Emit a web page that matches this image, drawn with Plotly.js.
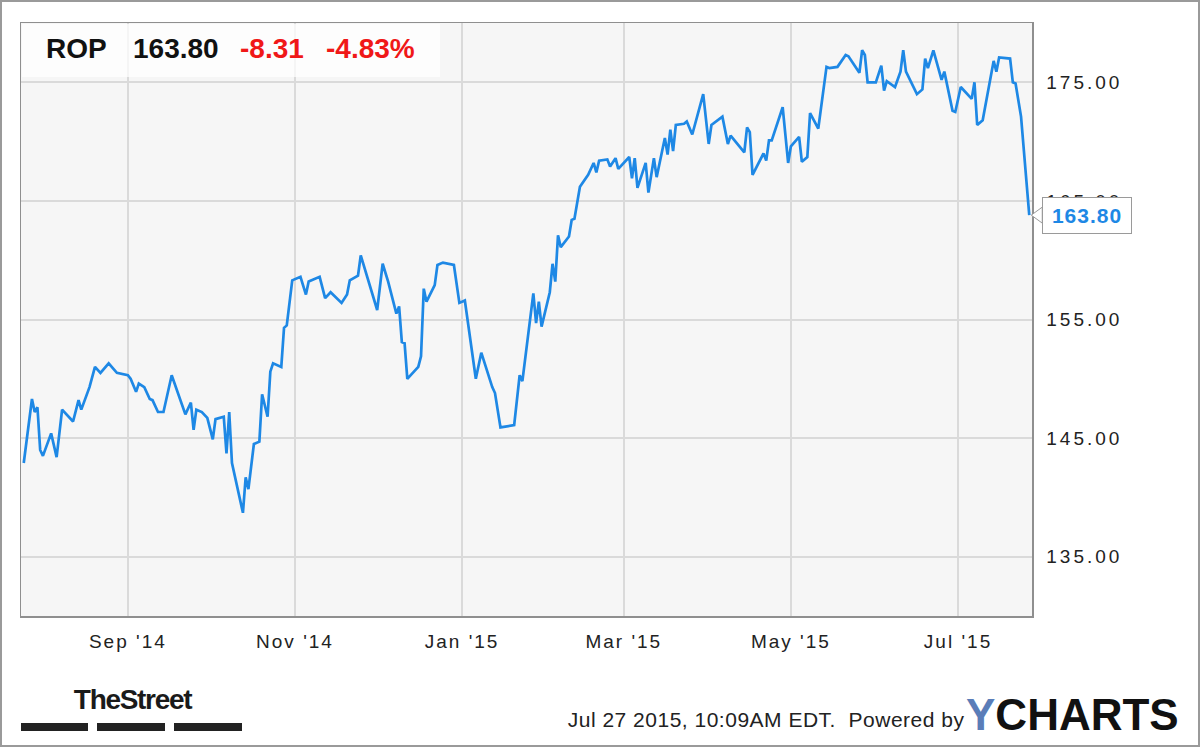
<!DOCTYPE html>
<html>
<head>
<meta charset="utf-8">
<script src="https://cdn.plot.ly/plotly-3.0.1.min.js"></script>
<style>
  html, body { margin: 0; padding: 0; background: #ffffff; }
  #chart { width: 1200px; height: 747px; }
  .xtick text { letter-spacing: 2px; }
  .ytick text { letter-spacing: 3px; }
  .annotation[data-index="4"] text { letter-spacing: 1px; }
  .annotation[data-index="5"] text { letter-spacing: -1.3px; }
  .annotation[data-index="6"] text { letter-spacing: 0.5px; }
</style>
</head>
<body>
<div id="chart"></div>
<script>
// ---- Data ----
const ticker = "ROP";
const lastPriceText = "163.80";
const changeText = "-8.31";
const changePctText = "-4.83%";
const timestampText = "Jul 27 2015, 10:09AM EDT.  Powered by";

const dates = [
  "2014-07-25","2014-07-28","2014-07-29","2014-07-30","2014-07-31","2014-08-01","2014-08-04","2014-08-06",
  "2014-08-08","2014-08-12","2014-08-14","2014-08-15","2014-08-18","2014-08-20","2014-08-22","2014-08-25",
  "2014-08-28","2014-09-01","2014-09-02","2014-09-04","2014-09-05","2014-09-07","2014-09-09","2014-09-10",
  "2014-09-12","2014-09-14","2014-09-17","2014-09-22","2014-09-24","2014-09-25","2014-09-26","2014-09-28",
  "2014-09-30","2014-10-02","2014-10-03","2014-10-06","2014-10-07","2014-10-08","2014-10-09","2014-10-13",
  "2014-10-14","2014-10-15","2014-10-17","2014-10-19","2014-10-20","2014-10-22","2014-10-23","2014-10-24",
  "2014-10-27","2014-10-28","2014-10-29","2014-10-31","2014-11-03","2014-11-05","2014-11-06","2014-11-10",
  "2014-11-12","2014-11-14","2014-11-18","2014-11-20","2014-11-21","2014-11-24","2014-11-25","2014-12-01",
  "2014-12-03","2014-12-05","2014-12-08","2014-12-09","2014-12-10","2014-12-11","2014-12-12","2014-12-16",
  "2014-12-17","2014-12-18","2014-12-19","2014-12-22","2014-12-23","2014-12-25","2014-12-29","2014-12-31",
  "2015-01-02","2015-01-06","2015-01-08","2015-01-12","2015-01-13","2015-01-15","2015-01-20","2015-01-22",
  "2015-01-23","2015-01-27","2015-01-28","2015-01-29","2015-01-30","2015-02-02","2015-02-03","2015-02-04",
  "2015-02-05","2015-02-06","2015-02-09","2015-02-10","2015-02-11","2015-02-13","2015-02-16","2015-02-18",
  "2015-02-19","2015-02-20","2015-02-23","2015-02-24","2015-02-26","2015-02-27","2015-03-03","2015-03-04",
  "2015-03-05","2015-03-06","2015-03-09","2015-03-10","2015-03-12","2015-03-13","2015-03-16","2015-03-17",
  "2015-03-18","2015-03-19","2015-03-20","2015-03-23","2015-03-24","2015-03-26","2015-03-30","2015-04-01",
  "2015-04-02","2015-04-06","2015-04-08","2015-04-09","2015-04-14","2015-04-15","2015-04-16","2015-04-17",
  "2015-04-21","2015-04-22","2015-04-23","2015-04-24","2015-04-28","2015-04-30","2015-05-01","2015-05-04",
  "2015-05-05","2015-05-07","2015-05-08","2015-05-11","2015-05-14","2015-05-15","2015-05-18","2015-05-21",
  "2015-05-22","2015-05-26","2015-05-27","2015-05-28","2015-05-29","2015-06-01","2015-06-03","2015-06-04",
  "2015-06-05","2015-06-08","2015-06-10","2015-06-11","2015-06-12","2015-06-16","2015-06-18","2015-06-19",
  "2015-06-20","2015-06-22","2015-06-25","2015-06-26","2015-06-29","2015-06-30","2015-07-02","2015-07-06",
  "2015-07-07","2015-07-08","2015-07-10","2015-07-14","2015-07-15","2015-07-16","2015-07-20","2015-07-21",
  "2015-07-22","2015-07-24","2015-07-27"
];
const prices = [
  142.9,148.3,147.2,147.6,144.0,143.5,145.4,143.4,
  147.4,146.4,148.2,147.4,149.3,151.0,150.5,151.3,
  150.5,150.3,150.0,148.9,149.6,149.3,148.3,148.2,
  147.2,147.2,150.3,147.0,148.0,145.7,147.4,147.2,
  146.7,144.9,146.6,146.8,143.7,147.2,142.9,138.7,
  141.7,140.7,144.5,144.7,148.7,146.8,150.6,151.3,
  151.0,154.3,154.5,158.3,158.6,157.1,158.2,158.6,
  156.8,157.3,156.4,157.1,158.3,158.7,160.4,155.8,
  159.7,158.2,155.5,156.1,153.1,153.0,150.0,151.0,
  151.9,157.6,156.5,157.9,159.6,159.8,159.6,156.4,
  156.6,150.0,152.2,149.3,148.8,145.9,146.1,150.3,
  149.8,157.2,154.7,156.5,154.4,157.3,159.7,158.2,
  162.1,161.1,162.0,163.4,163.5,166.2,167.2,168.2,
  167.4,168.4,168.5,167.9,168.6,167.7,168.7,166.9,
  168.6,166.1,168.2,165.7,168.6,167.0,170.3,168.9,
  171.0,169.2,171.4,171.5,171.7,170.6,174.0,169.8,
  171.4,172.1,169.8,170.5,169.1,171.2,170.8,167.2,
  169.0,168.4,170.1,170.1,172.9,168.2,169.6,170.4,
  168.3,168.7,172.4,171.1,176.3,176.2,176.3,177.3,
  177.2,175.8,177.7,177.3,175.0,175.0,176.4,174.3,
  175.1,174.6,175.9,177.7,175.9,174.0,174.4,177.0,
  176.2,177.7,175.2,175.9,172.6,172.5,174.6,173.6,
  175.0,171.4,171.8,176.8,175.9,177.1,177.0,175.0,
  174.9,172.11,163.8
];

const xTickVals = ["2014-09-01","2014-11-01","2015-01-01","2015-03-01","2015-05-01","2015-07-01"];
const xTickText = ["Sep '14","Nov '14","Jan '15","Mar '15","May '15","Jul '15"];
const yTickVals = [135,145,155,165,175];
const yTickText = ["135.00","145.00","155.00","165.00","175.00"];
const xRange = ["2014-07-24","2015-07-28"];
const yRange = [130,180];

// ---- Layout geometry helpers (pixel -> paper) ----
const W = 1200, H = 747;
const M = {l: 21, r: 168, t: 23, b: 131};
const PW = W - M.l - M.r, PH = H - M.t - M.b;
const px = x => (x - M.l) / PW;
const py = y => (H - M.b - y) / PH;

const lineColor = "#1e88e5";
const red = "#f01818";
const font = "Liberation Sans, Arial, sans-serif";

const lastDate = dates[dates.length - 1];
const lastVal = prices[prices.length - 1];
const lastXPaper = (Date.parse(lastDate) - Date.parse(xRange[0])) / (Date.parse(xRange[1]) - Date.parse(xRange[0]));
const lastYPaper = (lastVal - yRange[0]) / (yRange[1] - yRange[0]);

const trace = {
  type: "scatter", mode: "lines",
  x: dates, y: prices,
  line: {color: lineColor, width: 2.7},
  hoverinfo: "skip"
};

const layout = {
  width: W, height: H,
  margin: M,
  paper_bgcolor: "#ffffff",
  plot_bgcolor: "#f6f6f6",
  showlegend: false,
  xaxis: {
    type: "date", range: xRange,
    tickmode: "array", tickvals: xTickVals, ticktext: xTickText,
    showgrid: true, gridcolor: "#dadada", gridwidth: 2,
    showline: true, linecolor: "#8f8f8f", linewidth: 1.5, mirror: true,
    zeroline: false, ticks: "", ticklabelstandoff: 8,
    tickfont: {family: font, size: 19, color: "#222222"},
    fixedrange: true
  },
  yaxis: {
    side: "right", range: yRange,
    tickmode: "array", tickvals: yTickVals, ticktext: yTickText,
    showgrid: true, gridcolor: "#dadada", gridwidth: 2,
    showline: true, linecolor: "#8f8f8f", linewidth: 1.5, mirror: true,
    zeroline: false, ticks: "", ticklabelstandoff: 9,
    tickfont: {family: font, size: 19, color: "#222222"},
    fixedrange: true
  },
  shapes: [
    // header panel
    {type: "rect", xref: "paper", yref: "paper", x0: px(22), x1: px(440), y0: py(77), y1: py(24),
     fillcolor: "rgba(255,255,255,0.72)", line: {width: 0}, layer: "above"},
    // callout notch
    {type: "path", xref: "paper", yref: "paper", xsizemode: "pixel", ysizemode: "pixel",
     xanchor: lastXPaper, yanchor: lastYPaper,
     path: "M 2,0 L 13,8 L 13,-8 Z", fillcolor: "#ffffff", line: {color: "#9a9a9a", width: 1}},
    // TheStreet bars
    {type: "rect", xref: "paper", yref: "paper", x0: px(21), x1: px(88), y0: py(731), y1: py(723), fillcolor: "#222222", line: {width: 0}},
    {type: "rect", xref: "paper", yref: "paper", x0: px(97), x1: px(165), y0: py(731), y1: py(723), fillcolor: "#222222", line: {width: 0}},
    {type: "rect", xref: "paper", yref: "paper", x0: px(174), x1: px(242), y0: py(731), y1: py(723), fillcolor: "#222222", line: {width: 0}},
    // outer frame
    {type: "rect", xref: "paper", yref: "paper", x0: px(1), x1: px(1199), y0: py(746), y1: py(1),
     fillcolor: "rgba(0,0,0,0)", line: {color: "#9a9a9a", width: 2}}
  ],
  annotations: [
    {xref: "paper", yref: "paper", x: px(44), y: py(48), xanchor: "left", yanchor: "middle", showarrow: false,
     text: ticker, font: {family: font, size: 28, color: "#111111", weight: "bold"}},
    {xref: "paper", yref: "paper", x: px(131), y: py(48), xanchor: "left", yanchor: "middle", showarrow: false,
     text: lastPriceText, font: {family: font, size: 28, color: "#111111", weight: "bold"}},
    {xref: "paper", yref: "paper", x: px(238), y: py(48), xanchor: "left", yanchor: "middle", showarrow: false,
     text: changeText, font: {family: font, size: 28, color: red, weight: "bold"}},
    {xref: "paper", yref: "paper", x: px(324), y: py(48), xanchor: "left", yanchor: "middle", showarrow: false,
     text: changePctText, font: {family: font, size: 28, color: red, weight: "bold"}},
    // callout label
    {xref: "x", yref: "y", x: lastDate, y: lastVal, xanchor: "left", yanchor: "middle", xshift: 13, showarrow: false,
     text: lastPriceText, width: 80, height: 27, align: "center",
     bgcolor: "#ffffff", bordercolor: "#9a9a9a", borderwidth: 1, borderpad: 4,
     font: {family: font, size: 21, color: lineColor, weight: "bold"}},
    // branding
    {xref: "paper", yref: "paper", x: px(132), y: py(699), xanchor: "center", yanchor: "middle", showarrow: false,
     text: "TheStreet", font: {family: font, size: 28, color: "#1a1a1a", weight: "bold"}},
    {xref: "paper", yref: "paper", x: px(958), y: py(719), xanchor: "right", yanchor: "middle", showarrow: false,
     text: timestampText, font: {family: font, size: 21, color: "#222222"}},
    {xref: "paper", yref: "paper", x: px(964), y: py(714), xanchor: "left", yanchor: "middle", showarrow: false,
     text: "<span style='color:#5a7db8'>Y</span>CHARTS", font: {family: font, size: 44, color: "#111111", weight: "bold"}}
  ]
};

Plotly.newPlot("chart", [trace], layout, {displayModeBar: false, staticPlot: true});
</script>
</body>
</html>
